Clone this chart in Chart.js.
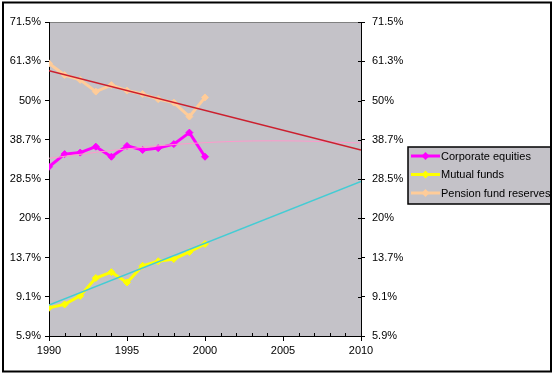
<!DOCTYPE html>
<html>
<head>
<meta charset="utf-8">
<script src="https://cdn.jsdelivr.net/npm/chart.js@4/dist/chart.umd.min.js"></script>
<style>
  body { margin: 0; background: #fff; }
  #wrap { width: 556px; height: 376px; }
</style>
</head>
<body>
<div id="wrap"><canvas id="shareChart" width="556" height="376"></canvas></div>
<script>
// Données (en %)
const years = [1990, 1991, 1992, 1993, 1994, 1995, 1996, 1997, 1998, 1999, 2000];
const corporateEquities = [31.5, 34.8, 35.2, 36.8, 34.1, 37.0, 35.9, 36.4, 37.5, 40.7, 34.1];
const mutualFunds = [8.1, 8.4, 9.2, 11.1, 11.8, 10.6, 12.6, 13.2, 13.5, 14.5, 15.7];
const pensionReserves = [60.7, 57.4, 56.0, 52.6, 54.5, 52.9, 51.9, 50.4, 49.4, 45.3, 50.9];

// Courbes de tendance
const trendYears = [1990, 2010];
const pensionTrend = [58.6, 35.9];
const mutualTrend = [8.35, 27.9];
const equitiesTrendYears = [1990, 1995, 2000, 2005, 2010];
const equitiesTrend = [33.7, 36.2, 37.9, 38.4, 37.8];

// Axes
const xTicks = [1990, 1995, 2000, 2005, 2010];
const yTickLabels = ['5.9%', '9.1%', '13.7%', '20%', '28.5%', '38.7%', '50%', '61.3%', '71.5%'];

const PLOT_BG = '#c4c2c8';
const FONT = { family: 'Arial, "Liberation Sans", sans-serif', size: 11 };

// échelle logit : on trace logit(p)
const logit = pct => Math.log((pct / 100) / (1 - pct / 100));
const yMax = logit(71.5);
const yStep = yMax / 2;
const yMin = yMax - (yTickLabels.length - 1) * yStep;

const toPoints = (xs, vals) => xs.map((x, i) => ({ x: x, y: logit(vals[i]) }));

function seriesDataset(label, color, values) {
    return {
        label: label,
        data: toPoints(years, values),
        borderColor: color,
        backgroundColor: color,
        borderWidth: 3,
        pointStyle: 'rectRot',
        pointRadius: 3.5,
        pointBorderWidth: 1,
        pointBorderColor: color,
        pointBackgroundColor: color,
        order: 1,
        inLegend: true
    };
}

function trendDataset(label, color, xs, values, width, tension) {
    return {
        label: label,
        data: toPoints(xs, values),
        borderColor: color,
        borderWidth: width,
        pointRadius: 0,
        tension: tension || 0,
        order: 0,
        inLegend: false
    };
}

function copyTicks(scale) {
    scale.ticks = yTickLabels.map((_, i) => ({ value: yMin + i * yStep }));
}

// Fond, bordures, petites graduations et légende
const decorPlugin = {
    id: 'decor',
    beforeDraw(chart) {
        const { ctx, chartArea: a } = chart;
        ctx.save();
        ctx.fillStyle = '#fff';
        ctx.fillRect(0, 0, chart.width, chart.height);
        ctx.fillStyle = PLOT_BG;
        ctx.fillRect(a.left, a.top, a.right - a.left, a.bottom - a.top);
        ctx.strokeStyle = '#808080';
        ctx.lineWidth = 1;
        ctx.beginPath();
        ctx.moveTo(a.left, a.top + 0.5);
        ctx.lineTo(a.right, a.top + 0.5);
        ctx.stroke();
        ctx.restore();
    },
    afterDraw(chart) {
        const { ctx, chartArea: a } = chart;
        const xs = chart.scales.x;
        const y2 = chart.scales.y2;
        ctx.save();
        ctx.strokeStyle = '#000';
        ctx.lineWidth = 1;
        ctx.beginPath();
        // graduations annuelles vers l'intérieur
        for (let yr = 1991; yr < 2010; yr++) {
            if (yr % 5 === 0) continue;
            const px = Math.round(xs.getPixelForValue(yr)) + 0.5;
            ctx.moveTo(px, a.bottom);
            ctx.lineTo(px, a.bottom - 3);
        }
        // graduations de l'axe droit, côté intérieur
        y2.ticks.forEach(t => {
            const py = Math.round(y2.getPixelForValue(t.value)) + 0.5;
            ctx.moveTo(a.right - 3, py);
            ctx.lineTo(a.right, py);
        });
        ctx.stroke();

        // légende
        const box = { x: 408, y: 147, w: 143, h: 57 };
        ctx.fillStyle = PLOT_BG;
        ctx.fillRect(box.x, box.y, box.w, box.h);
        ctx.lineWidth = 1.5;
        ctx.strokeRect(box.x, box.y, box.w, box.h);
        const items = chart.data.datasets.filter(d => d.inLegend);
        ctx.font = `${FONT.size}px ${FONT.family}`;
        ctx.textBaseline = 'middle';
        items.forEach((d, i) => {
            const cy = 156 + i * 18.5;
            ctx.strokeStyle = d.borderColor;
            ctx.lineWidth = 3;
            ctx.beginPath();
            ctx.moveTo(411, cy);
            ctx.lineTo(440, cy);
            ctx.stroke();
            ctx.fillStyle = d.borderColor;
            ctx.beginPath();
            ctx.moveTo(425.5, cy - 4);
            ctx.lineTo(429.5, cy);
            ctx.lineTo(425.5, cy + 4);
            ctx.lineTo(421.5, cy);
            ctx.closePath();
            ctx.fill();
            ctx.fillStyle = '#000';
            ctx.fillText(d.label, 441, cy + 0.5);
        });

        // cadre extérieur
        ctx.strokeStyle = '#000';
        ctx.lineWidth = 2;
        ctx.strokeRect(3, 2.5, 548, 369);
        ctx.restore();
    }
};

const ctx = document.getElementById('shareChart').getContext('2d');
const shareChart = new Chart(ctx, {
    type: 'line',
    data: {
        datasets: [
            seriesDataset('Corporate equities', '#ff00ff', corporateEquities),
            seriesDataset('Mutual funds', '#ffff00', mutualFunds),
            seriesDataset('Pension fund reserves', '#ffcc99', pensionReserves),
            trendDataset('Pension trend', '#cc1f2e', trendYears, pensionTrend, 1.5),
            trendDataset('Mutual trend', '#44ccd4', trendYears, mutualTrend, 1.5),
            trendDataset('Equities trend', '#ff99cc', equitiesTrendYears, equitiesTrend, 1, 0.4)
        ]
    },
    options: {
        responsive: false,
        animation: false,
        events: [],
        layout: { padding: { top: 22, left: 0, right: 0, bottom: 0 } },
        plugins: {
            legend: { display: false },
            tooltip: { enabled: false }
        },
        scales: {
            x: {
                type: 'linear',
                min: 1990,
                max: 2010,
                afterBuildTicks: scale => { scale.ticks = xTicks.map(v => ({ value: v })); },
                afterFit: scale => { scale.height = 40; },
                ticks: {
                    color: '#000',
                    font: FONT,
                    padding: 3,
                    maxRotation: 0,
                    callback: v => String(v)
                },
                grid: { drawOnChartArea: false, tickLength: 5, color: '#000' },
                border: { color: '#000', width: 1 }
            },
            y: {
                type: 'linear',
                position: 'left',
                min: yMin,
                max: yMax,
                afterBuildTicks: copyTicks,
                afterFit: scale => { scale.width = 49; },
                ticks: {
                    color: '#000',
                    font: FONT,
                    padding: 4,
                    callback: (v, i) => yTickLabels[i]
                },
                grid: { drawOnChartArea: false, tickLength: 4, color: '#000' },
                border: { color: '#000', width: 1 }
            },
            y2: {
                type: 'linear',
                position: 'right',
                min: yMin,
                max: yMax,
                afterBuildTicks: copyTicks,
                afterFit: scale => { scale.width = 195; },
                ticks: {
                    color: '#000',
                    font: FONT,
                    padding: 7,
                    callback: (v, i) => yTickLabels[i]
                },
                grid: { drawOnChartArea: false, tickLength: 4, color: '#000' },
                border: { color: '#000', width: 1 }
            }
        }
    },
    plugins: [decorPlugin]
});
</script>
</body>
</html>
